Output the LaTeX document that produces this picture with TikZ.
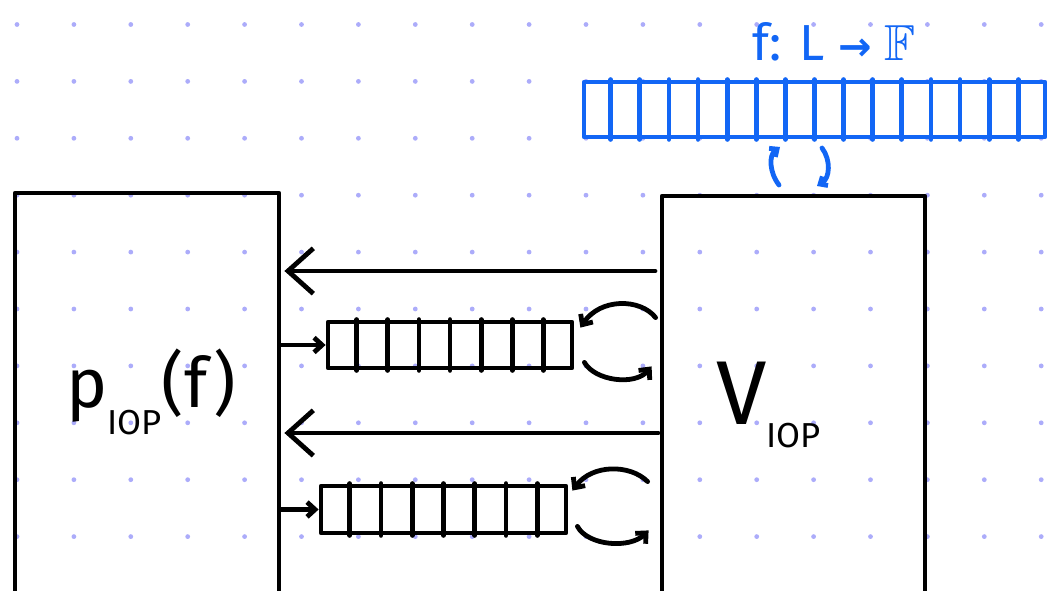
\documentclass[tikz,border=0pt]{standalone}
\usepackage{fontspec}
\usepackage{amssymb}
\setsansfont{Fira Sans}
\newfontfamily\symf{DejaVu Sans}
\usetikzlibrary{arrows.meta,calc,fit}
\definecolor{dotc}{RGB}{172,172,250}
\definecolor{penblue}{RGB}{18,102,245}
\begin{document}
\begin{tikzpicture}[x=0.75pt,y=-0.75pt,
  box/.style={draw, line width=3.6pt, inner sep=0pt, line join=round},
  ink/.style={line width=3.6pt, line cap=round, line join=round},
  bigtip/.style={-{Straight Barb[length=19pt,width=34pt]}},
  smalltip/.style={-{Straight Barb[length=6pt,width=11pt]}},
  bluetip/.style={-{Straight Barb[length=4.5pt,width=8pt]}},
  lab/.style={inner sep=0pt, font=\sffamily}]
\useasboundingbox (0,0) rectangle (1047,591);
\clip (0,0) rectangle (1047,591);
% dot grid
\foreach \i in {0,...,18} \foreach \j in {0,...,9}
  \fill[dotc] (17+56.9*\i, 24.5+56.9*\j) circle[radius=1.8pt];
% main boxes
\node (P) [box, fit={(15,193) (279,640)}] {};
\node (V) [box, fit={(662,196) (925,640)}] {};
% queues
\node (Q1) [box, fit={(328,322) (572,368)}] {};
\foreach \k in {1,...,7}
  \draw[ink] ($(Q1.north west)!\k/8!(Q1.north east)$) -- ($(Q1.south west)!\k/8!(Q1.south east)$);
\node (Q2) [box, fit={(321,486) (566,533)}] {};
\foreach \k in {1,...,7}
  \draw[ink] ($(Q2.north west)!\k/8!(Q2.north east)$) -- ($(Q2.south west)!\k/8!(Q2.south east)$);
% blue bar
\node (B) [box, draw=penblue, fit={(584,82) (1045,137)}] {};
\foreach \k in {1,...,15}
  \draw[ink, penblue] ($(B.north west)!\k/16!(B.north east)$) -- ($(B.south west)!\k/16!(B.south east)$);
\node (F) [lab, text=penblue, font=\sffamily\fontsize{38}{40}\selectfont] at (834,42) {f: L {\symf\bfseries\fontsize{30}{30}\selectfont →} $\mathbb{F}$};
% blue curl arrows
\coordinate (cl1) at (779,185);
\coordinate (cl2) at (780,147);
\coordinate (cr1) at (822,148);
\coordinate (cr2) at (817,186);
\draw[ink, penblue, bluetip] (cl1) .. controls (769,172) and (769,155) .. (cl2);
\draw[ink, penblue, bluetip] (cr1) .. controls (831,160) and (830,178) .. (cr2);
% long arrows V -> P
\coordinate (a1) at (655,271);
\coordinate (a2) at (658,433);
\draw[ink, bigtip] (a1) -- ($(a1 -| P.east)+(3,0)$);
\draw[ink, bigtip] (a2) -- ($(a2 -| P.east)+(3,0)$);
% short arrows P -> queues
\draw[ink, smalltip] (P.east |- Q1.west) -- (Q1.west);
\draw[ink, smalltip] (P.east |- Q2.west) -- (Q2.west);
% loops queue 1
\draw[ink, smalltip] ($(V.west |- Q1.north)+(-4,-2)$) .. controls (640,298) and (600,298) .. ($(Q1.north east)+(6,8)$);
\draw[ink, smalltip] ($(Q1.south east)+(10,-8)$) .. controls (595,381) and (635,386) .. ($(V.west |- Q1.south)+(-8,-4)$);
% loops queue 2
\draw[ink, smalltip] ($(V.west |- Q2.north)+(-12,-2)$) .. controls (630,464) and (592,464) .. ($(Q2.north east)+(4,7)$);
\draw[ink, smalltip] ($(Q2.south east)+(9,-9)$) .. controls (588,546) and (630,549) .. ($(V.west |- Q2.south)+(-11,-5)$);
% labels
\node (PL) [lab, anchor=base west, font=\sffamily\fontsize{52}{52}\selectfont] at (66,408)
  {p\raisebox{-20pt}{\fontsize{26}{26}\selectfont IOP}(f)};
\node (VL) [lab, anchor=base west, font=\sffamily\fontsize{68}{68}\selectfont] at (716,425)
  {V\raisebox{-17pt}{\fontsize{26}{26}\selectfont IOP}};
\end{tikzpicture}
\end{document}
